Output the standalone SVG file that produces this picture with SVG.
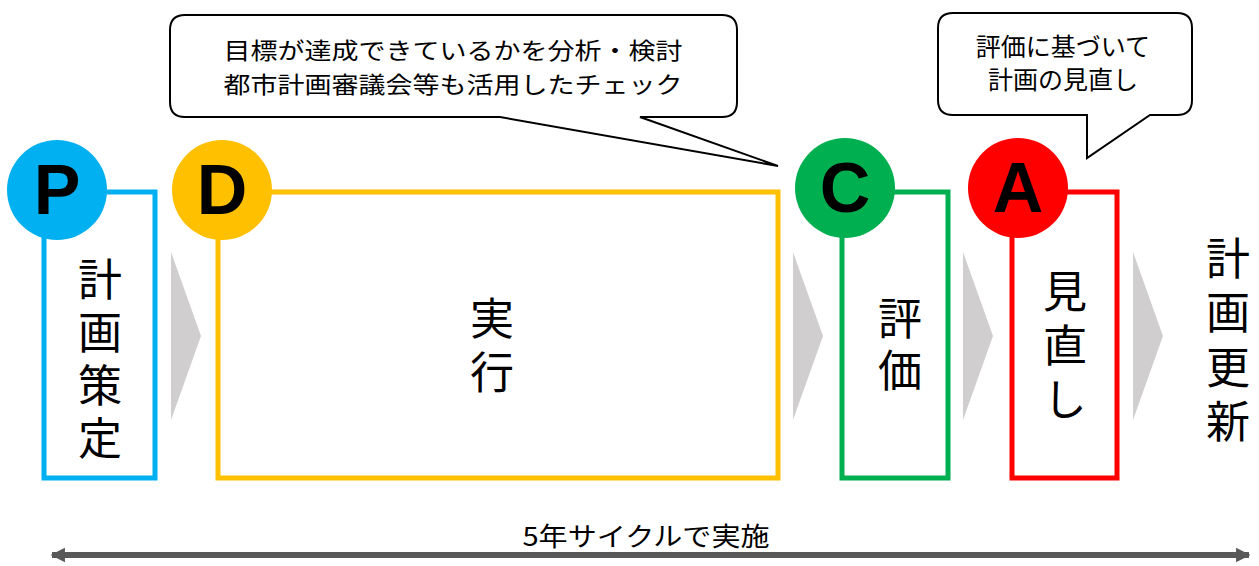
<svg xmlns="http://www.w3.org/2000/svg" width="1259" height="566" viewBox="0 0 1259 566">
<style>
.jp{font-family:"Noto Sans CJK JP","Noto Sans",sans-serif;fill:#000}
.big{font-size:44px;text-anchor:middle;writing-mode:vertical-rl}
.call{font-size:25px;text-anchor:middle}
.let{font-family:"Liberation Sans",Arial,sans-serif;font-weight:bold;font-size:70px;text-anchor:middle;fill:#000}
.box{fill:#fff;stroke-width:5}
.chev{fill:#d0cece}
.bubble{fill:#fff;stroke:#000;stroke-width:2}
</style>
<defs>
<marker id="ah" viewBox="0 0 10 10" refX="9" refY="5" markerWidth="2.4" markerHeight="2.8" orient="auto-start-reverse" markerUnits="strokeWidth">
<path d="M0,0 L10,5 L0,10 z" fill="#595959"/>
</marker>
</defs>
<g id="connectors">
<polygon class="chev" points="171,252 201,336 171,420"/>
<polygon class="chev" points="793,252 823,336 793,420"/>
<polygon class="chev" points="963,252 993,336 963,420"/>
<polygon class="chev" points="1133,252 1163,336 1133,420"/>
<line x1="52" y1="555" x2="1249" y2="555" stroke="#595959" stroke-width="6" marker-start="url(#ah)" marker-end="url(#ah)"/>
</g>
<g id="callout1">
<path class="bubble" d="M185,15 H722 Q737,15 737,30 V102 Q737,117 722,117 H640 L778,166 L500,117 H185 Q170,117 170,102 V30 Q170,15 185,15 Z"/>
<text class="jp call" font-size="23" textLength="459" lengthAdjust="spacingAndGlyphs" x="453" y="59" style="font-size:23px">目標が達成できているかを分析・検討</text>
<text class="jp call" font-size="23" textLength="459" lengthAdjust="spacingAndGlyphs" x="453" y="93" style="font-size:23px">都市計画審議会等も活用したチェック</text>
</g>
<g id="callout2">
<path class="bubble" d="M953,13 H1177 Q1192,13 1192,28 V100 Q1192,115 1177,115 H1150 L1087,158 V115 H953 Q938,115 938,100 V28 Q938,13 953,13 Z"/>
<text class="jp call" x="1063" y="56">評価に基づいて</text>
<text class="jp call" x="1063" y="89">計画の見直し</text>
</g>
<g id="node-P">
<rect class="box" x="44" y="192" width="111" height="286" stroke="#00b0f0"/>
<circle cx="57" cy="190" r="50" fill="#00b0f0"/>
<text class="let" x="57" y="214">P</text>
<text class="jp big" x="100" y="363" letter-spacing="9">計画策定</text>
</g>
<g id="node-D">
<rect class="box" x="218" y="192" width="560" height="286" stroke="#ffc000"/>
<circle cx="222" cy="190" r="50" fill="#ffc000"/>
<text class="let" x="222" y="214">D</text>
<text class="jp big" x="492" y="350" letter-spacing="10">実行</text>
</g>
<g id="node-C">
<rect class="box" x="842" y="192" width="106" height="286" stroke="#00b050"/>
<circle cx="845" cy="188" r="50" fill="#00b050"/>
<text class="let" x="845" y="212">C</text>
<text class="jp big" x="900" y="348" letter-spacing="8">評価</text>
</g>
<g id="node-A">
<rect class="box" x="1012" y="192" width="105" height="286" stroke="#ff0000"/>
<circle cx="1018" cy="188" r="50" fill="#ff0000"/>
<text class="let" x="1018" y="212">A</text>
<text class="jp big" x="1065" y="350" letter-spacing="10">見直し</text>
</g>
<g id="node-update">
<text class="jp big" x="1228" y="345" letter-spacing="10.5">計画更新</text>
</g>
<g id="label-cycle">
<text class="jp" x="646" y="546" font-size="26" text-anchor="middle" textLength="247" lengthAdjust="spacingAndGlyphs">5年サイクルで実施</text>
</g>
</svg>
